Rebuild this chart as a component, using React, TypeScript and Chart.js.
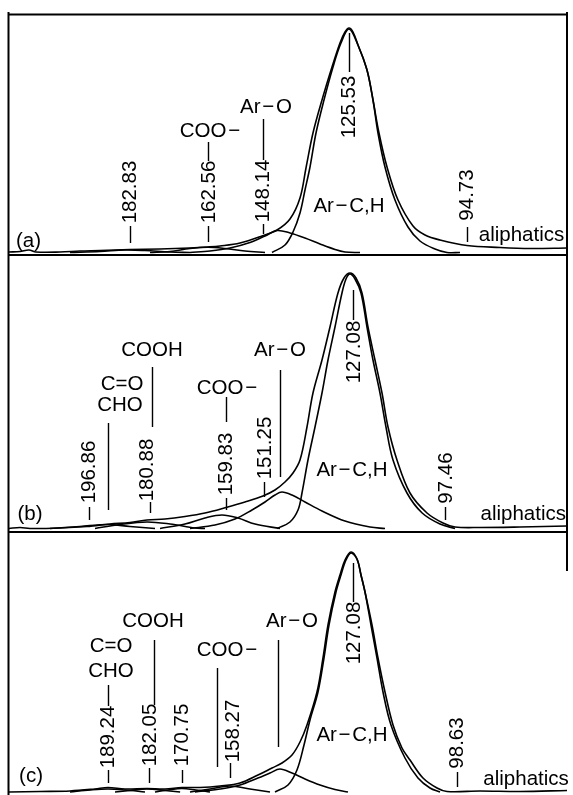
import React, { useEffect, useRef } from "react";
import { Chart, registerables } from "chart.js";

Chart.register(...registerables);

type P = [number, number];

// ---------- Panel (a): chemical shift (ppm) vs. intensity ----------
const aTotal: P[] = [
  [214.76, 0.5], [211.88, 1], [209.53, 2.5], [207.7, 0.5], [201.41, 0.5], [196.18, 1.5], [190.94, 2],
  [183.09, 3], [175.23, 3.5], [167.38, 4.5], [162.67, 5.5], [159.52, 6.5], [154.29, 9.5], [148.53, 16.5],
  [144.6, 22.5], [141.2, 33.5], [138.58, 54.5], [137.01, 84.5], [135.18, 119.5], [132.82, 152.5],
  [130.2, 185.5], [128.11, 209.5], [126.8, 220.5], [125.75, 224.5], [124.7, 220.5], [123.4, 207.5],
  [121.04, 182.5], [119.47, 152.5], [117.9, 119.5], [115.8, 85.5], [112.92, 52.5], [108.99, 26.5],
  [105.85, 17.5], [101.93, 12.5], [94.86, 7], [86.22, 5], [78.37, 4], [68.68, 4.5],
];
const aArCH: P[] = [
  [145.91, 0], [142.51, 7.5], [140.41, 20.5], [138.58, 39.5], [137.27, 62.5], [135.96, 85.5],
  [134.39, 119.5], [132.3, 152.5], [129.94, 185.5], [127.85, 209.5], [125.75, 223.5], [123.4, 207.5],
  [121.04, 182.5], [119.47, 152.5], [118.16, 119.5], [116.33, 85.5], [113.71, 52.5], [110.31, 25.5],
  [107.17, 11.5], [103.24, 3.5], [100.1, 0], [96.69, 0],
];
const aArO: P[] = [
  [167.38, 0], [162.14, 1.5], [156.9, 4.5], [151.67, 10], [147.74, 16.5], [144.6, 22], [141.2, 19.5],
  [137.27, 14.5], [133.34, 8.5], [129.42, 3], [126.8, 0.5], [122.87, 0],
];
const aCOO: P[] = [
  [177.85, 0], [172.61, 1], [167.38, 4], [162.67, 5.2], [158.22, 4], [152.98, 1.5], [147.74, 0],
];
const a183: P[] = [
  [198.79, 0], [190.94, 1], [184.4, 2.5], [179.16, 2], [172.61, 0.5], [167.38, 0],
];

// ---------- Panel (b) ----------
const bTotal: P[] = [
  [217.12, 0], [214.24, 1], [211.63, 0], [203.77, 0.5], [196.7, 2], [190.68, 4.5], [185.45, 6],
  [181.0, 8.5], [176.28, 9.5], [171.05, 12], [165.81, 15.5], [160.31, 21], [155.34, 26.5],
  [150.63, 32.5], [147.49, 38.5], [144.87, 46.5], [142.77, 55.5], [140.94, 68.5], [139.11, 101.5],
  [137.54, 135.5], [135.18, 168.5], [133.09, 201.5], [131.0, 235.5], [129.42, 250.5], [127.85, 255.5],
  [126.28, 250.5], [124.71, 235.5], [123.14, 201.5], [121.31, 168.5], [119.47, 135.5], [117.9, 101.5],
  [115.55, 68.5], [112.14, 35.5], [107.69, 15.5], [103.5, 5.5], [100.36, 1.5], [93.82, 1],
  [83.35, 1.5], [71.04, 2.5],
];
const bArCH: P[] = [
  [146.96, 0], [143.56, 6.5], [141.46, 18.5], [140.42, 35.5], [138.85, 68.5], [137.01, 101.5],
  [135.18, 135.5], [133.61, 168.5], [131.78, 201.5], [129.95, 235.5], [128.9, 249.5], [127.85, 254.5],
  [126.54, 249.5], [124.97, 235.5], [123.4, 201.5], [121.83, 168.5], [120.0, 135.5], [118.43, 101.5],
  [116.59, 68.5], [112.93, 35.5], [108.96, 15.5], [104.29, 4.5], [100.36, 0],
];
const bArO: P[] = [
  [169.74, 0], [163.19, 3.5], [157.96, 9.5], [153.51, 18.5], [150.1, 26.5], [147.49, 33.5],
  [145.65, 36.5], [143.03, 33.5], [139.63, 26.5], [135.18, 17.5], [129.16, 7.5], [122.61, 1.5],
  [118.69, 0],
];
const bCOO: P[] = [
  [177.59, 0], [171.05, 4.5], [165.81, 10.5], [161.36, 13.5], [157.17, 10.5], [152.72, 4.5], [146.18, 0],
];
const bCOOH: P[] = [
  [194.61, 0], [188.06, 4], [181.0, 6.5], [174.97, 4.5], [168.43, 0.5], [165.81, 0],
];
const bCO: P[] = [
  [206.39, 0], [198.54, 2], [191.21, 4], [185.45, 2], [178.9, 0],
];

// ---------- Panel (c) ----------
const cTotal: P[] = [
  [215.96, 0], [207.85, 0.5], [200.0, 1], [193.45, 3], [190.05, 4.5], [185.6, 3], [179.84, 3.5],
  [175.12, 3], [170.67, 4.5], [165.96, 4.5], [160.72, 6], [155.49, 9], [150.78, 17], [147.11, 24],
  [144.49, 29], [141.87, 37], [139.78, 50], [137.95, 67], [135.33, 100], [133.76, 134], [132.45, 167],
  [130.62, 200], [129.31, 217], [128.0, 232], [126.43, 240], [124.86, 233], [123.81, 217], [122.76, 200],
  [120.93, 167], [119.36, 134], [117.53, 100], [115.43, 67], [113.08, 44], [110.98, 32], [107.58, 14],
  [103.91, 4], [101.29, 0.5], [92.65, 1], [82.18, 0.5], [69.88, 1.5],
];
const cArCH: P[] = [
  [146.32, 0], [142.92, 7], [140.57, 22], [138.73, 47], [137.16, 72], [135.07, 100], [133.5, 134],
  [132.19, 167], [130.36, 200], [129.05, 217], [127.74, 232], [126.43, 239], [124.86, 233], [123.81, 217],
  [122.76, 200], [121.19, 167], [119.62, 134], [118.05, 100], [115.96, 67], [112.29, 34], [108.89, 14],
  [105.75, 4], [103.13, 0],
];
const cArO: P[] = [
  [167.27, 0], [160.72, 3], [155.49, 7], [150.78, 14], [147.63, 19], [145.02, 23], [141.87, 19],
  [138.47, 13], [134.54, 7], [130.62, 2.5], [127.22, 0],
];
const cCO: P[] = [[199.99, 0], [194.76, 2], [190.05, 3], [185.6, 2], [180.36, 0]];
const cCOOH: P[] = [[188.21, 0], [184.29, 1.5], [179.84, 3], [175.12, 1.5], [171.16, 0]];
const c171: P[] = [[177.74, 0], [174.34, 2], [170.67, 3.5], [167.01, 2], [163.34, 0]];
const cCOO: P[] = [[168.58, 0], [163.34, 3], [158.11, 6], [152.87, 3], [147.63, 0]];

// ---------- Annotations: [text, ppm, intensity] ----------
type T = [string, number, number];
type L = [number, number, number]; // ppm, from, to (intensity)

const ARO = "Ar\u200A\u2212\u200AO";
const ARCH = "Ar\u200A\u2212\u200AC,H";
const COOM = "COO\u200A\u2212";

const aTexts: T[] = [
  [ARO, 147.48, 145.5], [COOM, 162.14, 121.5], [ARCH, 125.75, 46.5],
  ["aliphatics", 80.6, 17.5], ["(a)", 209.66, 11.5],
];
const aVTexts: T[] = [
  ["182.83", 183.09, 60.5], ["162.56", 162.4, 60.5], ["148.14", 148.27, 61.5],
  ["125.53", 125.75, 145.5], ["94.73", 94.86, 57.5],
];
const aLines: L[] = [
  [183.09, 26.5, 9.5], [162.67, 26.5, 10.5], [162.67, 110.5, 91.5], [148.27, 28.5, 18.5],
  [148.27, 133.5, 92.5], [125.75, 219.5, 180.5], [94.86, 25.5, 10.5],
];

const bTexts: T[] = [
  ["(b)", 211.63, 14.5], ["C=O", 187.54, 144.5], ["CHO", 188.06, 123.5], ["COOH", 179.69, 178.5],
  [COOM, 160.05, 140.5], [ARO, 146.18, 178.5], [ARCH, 127.33, 58.5],
  ["aliphatics", 82.5, 14.5],
];
const bVTexts: T[] = [
  ["196.86", 196.18, 56.5], ["180.88", 180.99, 58.5], ["159.83", 160.18, 64.5], ["151.25", 150.1, 80.5],
  ["127.08", 126.8, 176.5], ["97.46", 102.72, 50.5],
];
const bLines: L[] = [
  [196.18, 21.5, 8.5], [191.21, 105.5, 18.5], [179.69, 161.5, 101.5], [180.21, 26.5, 15.5],
  [160.31, 131.5, 106.5], [160.31, 30.5, 18.5], [150.36, 46.5, 31.5], [146.18, 158.5, 51.5],
  [127.06, 238.5, 208.5], [102.98, 21.5, 8.5],
];

const cTexts: T[] = [
  ["(c)", 210.2, 16], ["C=O", 189.26, 146], ["CHO", 189.26, 121], ["COOH", 178.27, 171],
  [COOM, 158.89, 142], [ARO, 141.87, 171], [ARCH, 126.17, 57],
  ["aliphatics", 80.6, 13],
];
const cVTexts: T[] = [
  ["189.24", 190.05, 55], ["182.05", 179.05, 57], ["170.75", 170.67, 57], ["158.27", 157.32, 61],
  ["127.08", 125.64, 159], ["98.63", 98.68, 49],
];
const cLines: L[] = [
  [190.05, 22, 9], [190.05, 107, 86], [178.0, 152, 87], [179.31, 24, 9], [170.67, 22, 9],
  [161.51, 124, 25], [158.11, 29, 14], [145.54, 152, 45], [125.91, 229, 190], [98.68, 20, 5],
];

// ---------- Layout ----------
interface Panel {
  key: string;
  top: number;
  height: number;
  padTop: number;
  padBottom: number;
  xMin: number;
  xMax: number;
  yMin: number;
  yMax: number;
  series: P[][];
  texts: T[];
  vtexts: T[];
  lines: L[];
  frameTop: number | null;
  frameBottom: number | null;
  rightEnd: number;
}

const CANVAS_LEFT = 6;
const CANVAS_W = 566;

const PANELS: Panel[] = [
  {
    key: "a", top: 12, height: 244, padTop: 2, padBottom: 1,
    xMin: 68.68, xMax: 214.76, yMin: -2.5, yMax: 238.5,
    series: [aTotal, aArCH, aArO, aCOO, a183], texts: aTexts, vtexts: aVTexts, lines: aLines,
    frameTop: 2.5, frameBottom: 243, rightEnd: 244,
  },
  {
    key: "b", top: 256, height: 277, padTop: 0, padBottom: 1,
    xMin: 71.04, xMax: 217.12, yMin: -3.5, yMax: 272.5,
    series: [bTotal, bArCH, bArO, bCOO, bCOOH, bCO], texts: bTexts, vtexts: bVTexts, lines: bLines,
    frameTop: null, frameBottom: 276, rightEnd: 277,
  },
  {
    key: "c", top: 533, height: 262, padTop: 0, padBottom: 0,
    xMin: 69.88, xMax: 215.96, yMin: -3, yMax: 259,
    series: [cTotal, cArCH, cArO, cCO, cCOOH, c171, cCOO], texts: cTexts, vtexts: cVTexts, lines: cLines,
    frameTop: null, frameBottom: null, rightEnd: 38,
  },
];

const FONT_H = '20.5px "Liberation Sans", Arial, Helvetica, sans-serif';
const FONT_V = '20.5px "Liberation Sans", Arial, Helvetica, sans-serif';
const INK = "#000";

function makePlugin(p: Panel) {
  return {
    id: "annot_" + p.key,
    afterDatasetsDraw(chart: any) {
      const ctx: CanvasRenderingContext2D = chart.ctx;
      const xs = chart.scales.x;
      const ys = chart.scales.y;
      const X = (v: number) => xs.getPixelForValue(v);
      const Y = (v: number) => ys.getPixelForValue(v);
      ctx.save();
      ctx.strokeStyle = INK;
      ctx.fillStyle = INK;
      // frame
      ctx.lineWidth = 2;
      ctx.beginPath();
      ctx.moveTo(2.5, 0);
      ctx.lineTo(2.5, p.height);
      ctx.moveTo(561, 0);
      ctx.lineTo(561, p.rightEnd);
      if (p.frameTop !== null) {
        ctx.moveTo(2.5, p.frameTop);
        ctx.lineTo(561, p.frameTop);
      }
      if (p.frameBottom !== null) {
        ctx.moveTo(2.5, p.frameBottom);
        ctx.lineTo(561, p.frameBottom);
      }
      ctx.stroke();
      // leader lines
      ctx.lineWidth = 1.4;
      ctx.beginPath();
      for (const [x, y1, y2] of p.lines) {
        const px = Math.round(X(x)) + 0.5;
        ctx.moveTo(px, Y(y1));
        ctx.lineTo(px, Y(y2));
      }
      ctx.stroke();
      // horizontal labels
      ctx.font = FONT_H;
      ctx.textAlign = "center";
      ctx.textBaseline = "middle";
      for (const [t, x, y] of p.texts) ctx.fillText(t, X(x), Y(y));
      // vertical labels
      ctx.font = FONT_V;
      for (const [t, x, y] of p.vtexts) {
        ctx.save();
        ctx.translate(X(x), Y(y));
        ctx.rotate(-Math.PI / 2);
        ctx.fillText(t, 0, 0);
        ctx.restore();
      }
      ctx.restore();
    },
  };
}

function makeConfig(p: Panel): any {
  return {
    type: "line",
    data: {
      datasets: p.series.map((s, i) => ({
        label: p.key + i,
        data: s.map(([x, y]) => ({ x, y })),
        borderColor: INK,
        borderWidth: 1.6,
        pointRadius: 0,
        fill: false,
        tension: 0.35,
      })),
    },
    options: {
      responsive: false,
      animation: false,
      events: [],
      layout: { padding: { left: 3, right: 5, top: p.padTop, bottom: p.padBottom } },
      scales: {
        x: { type: "linear", reverse: true, min: p.xMin, max: p.xMax, display: false },
        y: { type: "linear", min: p.yMin, max: p.yMax, display: false },
      },
      plugins: { legend: { display: false }, tooltip: { enabled: false } },
    },
    plugins: [makePlugin(p)],
  };
}

export default function App() {
  const r0 = useRef<HTMLCanvasElement>(null);
  const r1 = useRef<HTMLCanvasElement>(null);
  const r2 = useRef<HTMLCanvasElement>(null);
  const refs = [r0, r1, r2];

  useEffect(() => {
    const charts = PANELS.map((p, i) => new Chart(refs[i].current as HTMLCanvasElement, makeConfig(p)));
    return () => charts.forEach((c) => c.destroy());
  }, []);

  return (
    <div style={{ position: "absolute", left: 0, top: 0, width: 573, height: 795, background: "#fff", overflow: "hidden" }}>
      {PANELS.map((p, i) => (
        <canvas
          key={p.key}
          ref={refs[i]}
          width={CANVAS_W}
          height={p.height}
          style={{ position: "absolute", left: CANVAS_LEFT, top: p.top, width: CANVAS_W, height: p.height }}
        />
      ))}
    </div>
  );
}
